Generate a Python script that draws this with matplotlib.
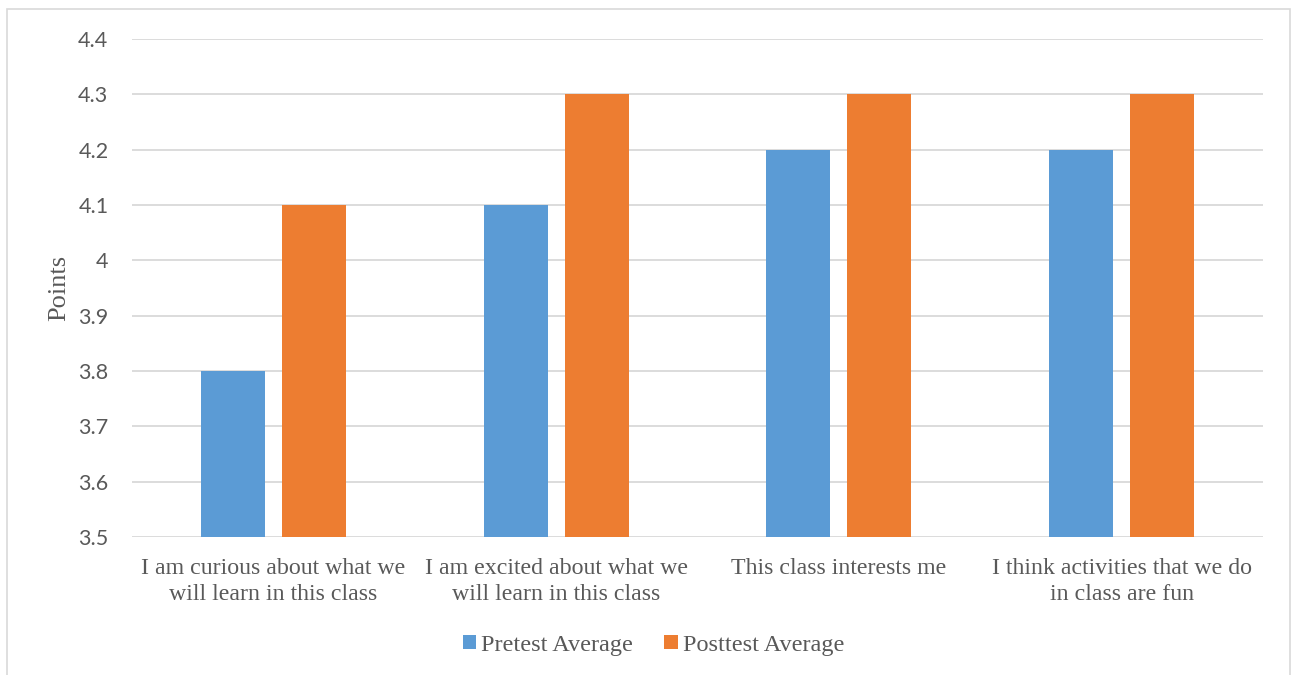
import numpy as np
import matplotlib.pyplot as plt
from matplotlib.patches import Rectangle

categories = ['I am curious about what we\nwill learn in this class',
              'I am excited about what we\nwill learn in this class',
              'This class interests me',
              'I think activities that we do\nin class are fun']
pretest = [3.8, 4.1, 4.2, 4.2]
posttest = [4.1, 4.3, 4.3, 4.3]
yticks = [3.5, 3.6, 3.7, 3.8, 3.9, 4.0, 4.1, 4.2, 4.3, 4.4]
ytick_labels = ['3.5', '3.6', '3.7', '3.8', '3.9', '4', '4.1', '4.2', '4.3', '4.4']

blue = '#5B9BD5'
orange = '#ED7D31'
grey_txt = '#595959'

fig = plt.figure(figsize=(12.92, 6.75), dpi=100)
ax = fig.add_axes([132/1292, 1-537/675, (1263-132)/1292, (537-39)/675])

x = np.arange(len(categories))
w = 0.226
off = 0.143
ax.bar(x - off, pretest, w, color=blue, label='Pretest Average', zorder=3)
ax.bar(x + off, posttest, w, color=orange, label='Posttest Average', zorder=3)

ax.set_xlim(-0.5, len(categories) - 0.5)
ax.set_ylim(3.5, 4.4)
ax.set_yticks(yticks)
ax.set_yticklabels(ytick_labels, fontfamily='Lato', fontsize=15.5, color=grey_txt)
ax.set_xticks(x)
ax.set_xticklabels(categories, fontfamily='Liberation Serif', fontsize=17.2,
                   color=grey_txt, linespacing=1.35)
ax.tick_params(axis='y', length=0, pad=17)
ax.tick_params(axis='x', length=0, pad=15)
ax.grid(axis='y', color='#D9D9D9', linewidth=1.3, zorder=0)
for s in ax.spines.values():
    s.set_visible(False)

ax.set_ylabel('Points', fontfamily='Liberation Serif', fontsize=19, color=grey_txt)
ax.yaxis.set_label_coords(-0.055, 0.5)

leg = fig.legend(loc='center', bbox_to_anchor=(653.5/1292, 1-645/675), ncol=2,
                 frameon=False, prop={'family': 'Liberation Serif', 'size': 17.5},
                 handlelength=0.55, handleheight=0.55, handletextpad=0.22,
                 columnspacing=1.27)
for t in leg.get_texts():
    t.set_color(grey_txt)

# outer chart frame
fig.patches.append(Rectangle((7/1292, -0.01), (1290-7)/1292, 1-9/675 + 0.01,
                             transform=fig.transFigure, fill=False,
                             edgecolor='#D9D9D9', linewidth=1.2))

fig.savefig('out.png', dpi=100)
